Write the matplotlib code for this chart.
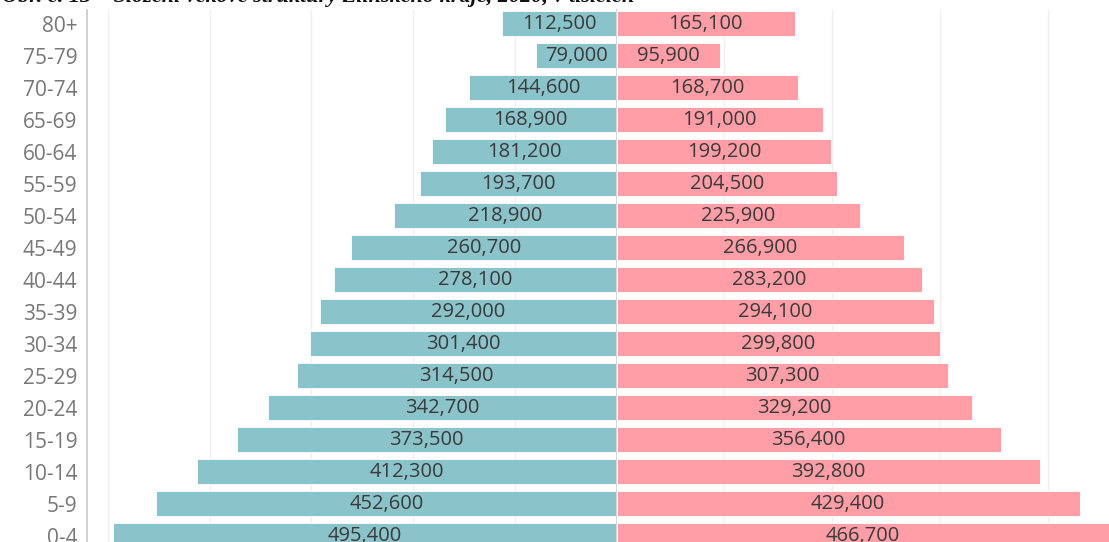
import matplotlib.pyplot as plt
import numpy as np

ages = ['0-4', '5-9', '10-14', '15-19', '20-24', '25-29', '30-34', '35-39',
        '40-44', '45-49', '50-54', '55-59', '60-64', '65-69', '70-74', '75-79', '80+']
male = [495400, 452600, 412300, 373500, 342700, 314500, 301400, 292000,
        278100, 260700, 218900, 193700, 181200, 168900, 144600, 79000, 112500]
female = [466700, 429400, 392800, 356400, 329200, 307300, 299800, 294100,
          283200, 266900, 225900, 204500, 199200, 191000, 168700, 95900, 165100]
grid_ticks = [100000, 200000, 300000, 400000, 500000]

title = 'Obr. č. 13 – Složení věkové struktury Zlínského kraje, 2020, v tisících'

male_color = '#8bc3ca'
female_color = '#ff9ea7'

W, H = 1109, 542
fig = plt.figure(figsize=(W / 100, H / 100), dpi=100)

y = np.arange(len(ages))
top_px, bot_px = 10, 542
row_px = 32
ylo = -(bot_px - 535.5) / row_px
yhi = (535.5 - top_px) / row_px

ax_l = fig.add_axes([87 / W, 0, (616.5 - 87) / W, (bot_px - top_px) / H])
ax_r = fig.add_axes([616.5 / W, 0, (W - 616.5) / W, (bot_px - top_px) / H])

for ax, vals, color, xmax in [(ax_l, male, male_color, 520700), (ax_r, female, female_color, 456600)]:
    for g in grid_ticks:
        ax.axvline(g, color='#efefef', lw=1, zorder=0)
    ax.barh(y, vals, height=0.78, color=color, edgecolor='#ffffff', linewidth=0.6,
            alpha=1, zorder=2)
    ax.set_ylim(ylo, yhi)
    ax.set_xlim(0, xmax)
    ax.set_xticks([])
    for s in ax.spines.values():
        s.set_visible(False)
    for yi, v in zip(y, vals):
        xc = min(v, xmax) / 2
        ax.text(xc, yi, f'{v:,}', ha='center', va='center', fontsize=14.5,
                family='Open Sans', color='#3a3a3a', zorder=3, clip_on=True)

ax_l.invert_xaxis()
ax_l.set_yticks(y)
ax_l.set_yticklabels(ages, fontsize=15, family='Open Sans', color='#777777')
ax_l.tick_params(axis='y', length=0, pad=7)
ax_l.spines['left'].set_visible(True)
ax_l.spines['left'].set_color('#c8c8c8')
ax_l.spines['left'].set_linewidth(1.2)
ax_l.spines['right'].set_visible(True)
ax_l.spines['right'].set_color('#d0d0d0')
ax_l.spines['right'].set_linewidth(1.2)
ax_l.spines['right'].set_zorder(4)
ax_r.set_yticks([])

fig.text(0.002, 1 - 2 / H, title, ha='left', va='baseline', fontsize=16,
         family='Liberation Serif', style='italic', weight='bold', color='#111111')

fig.savefig('out.png', dpi=100)
